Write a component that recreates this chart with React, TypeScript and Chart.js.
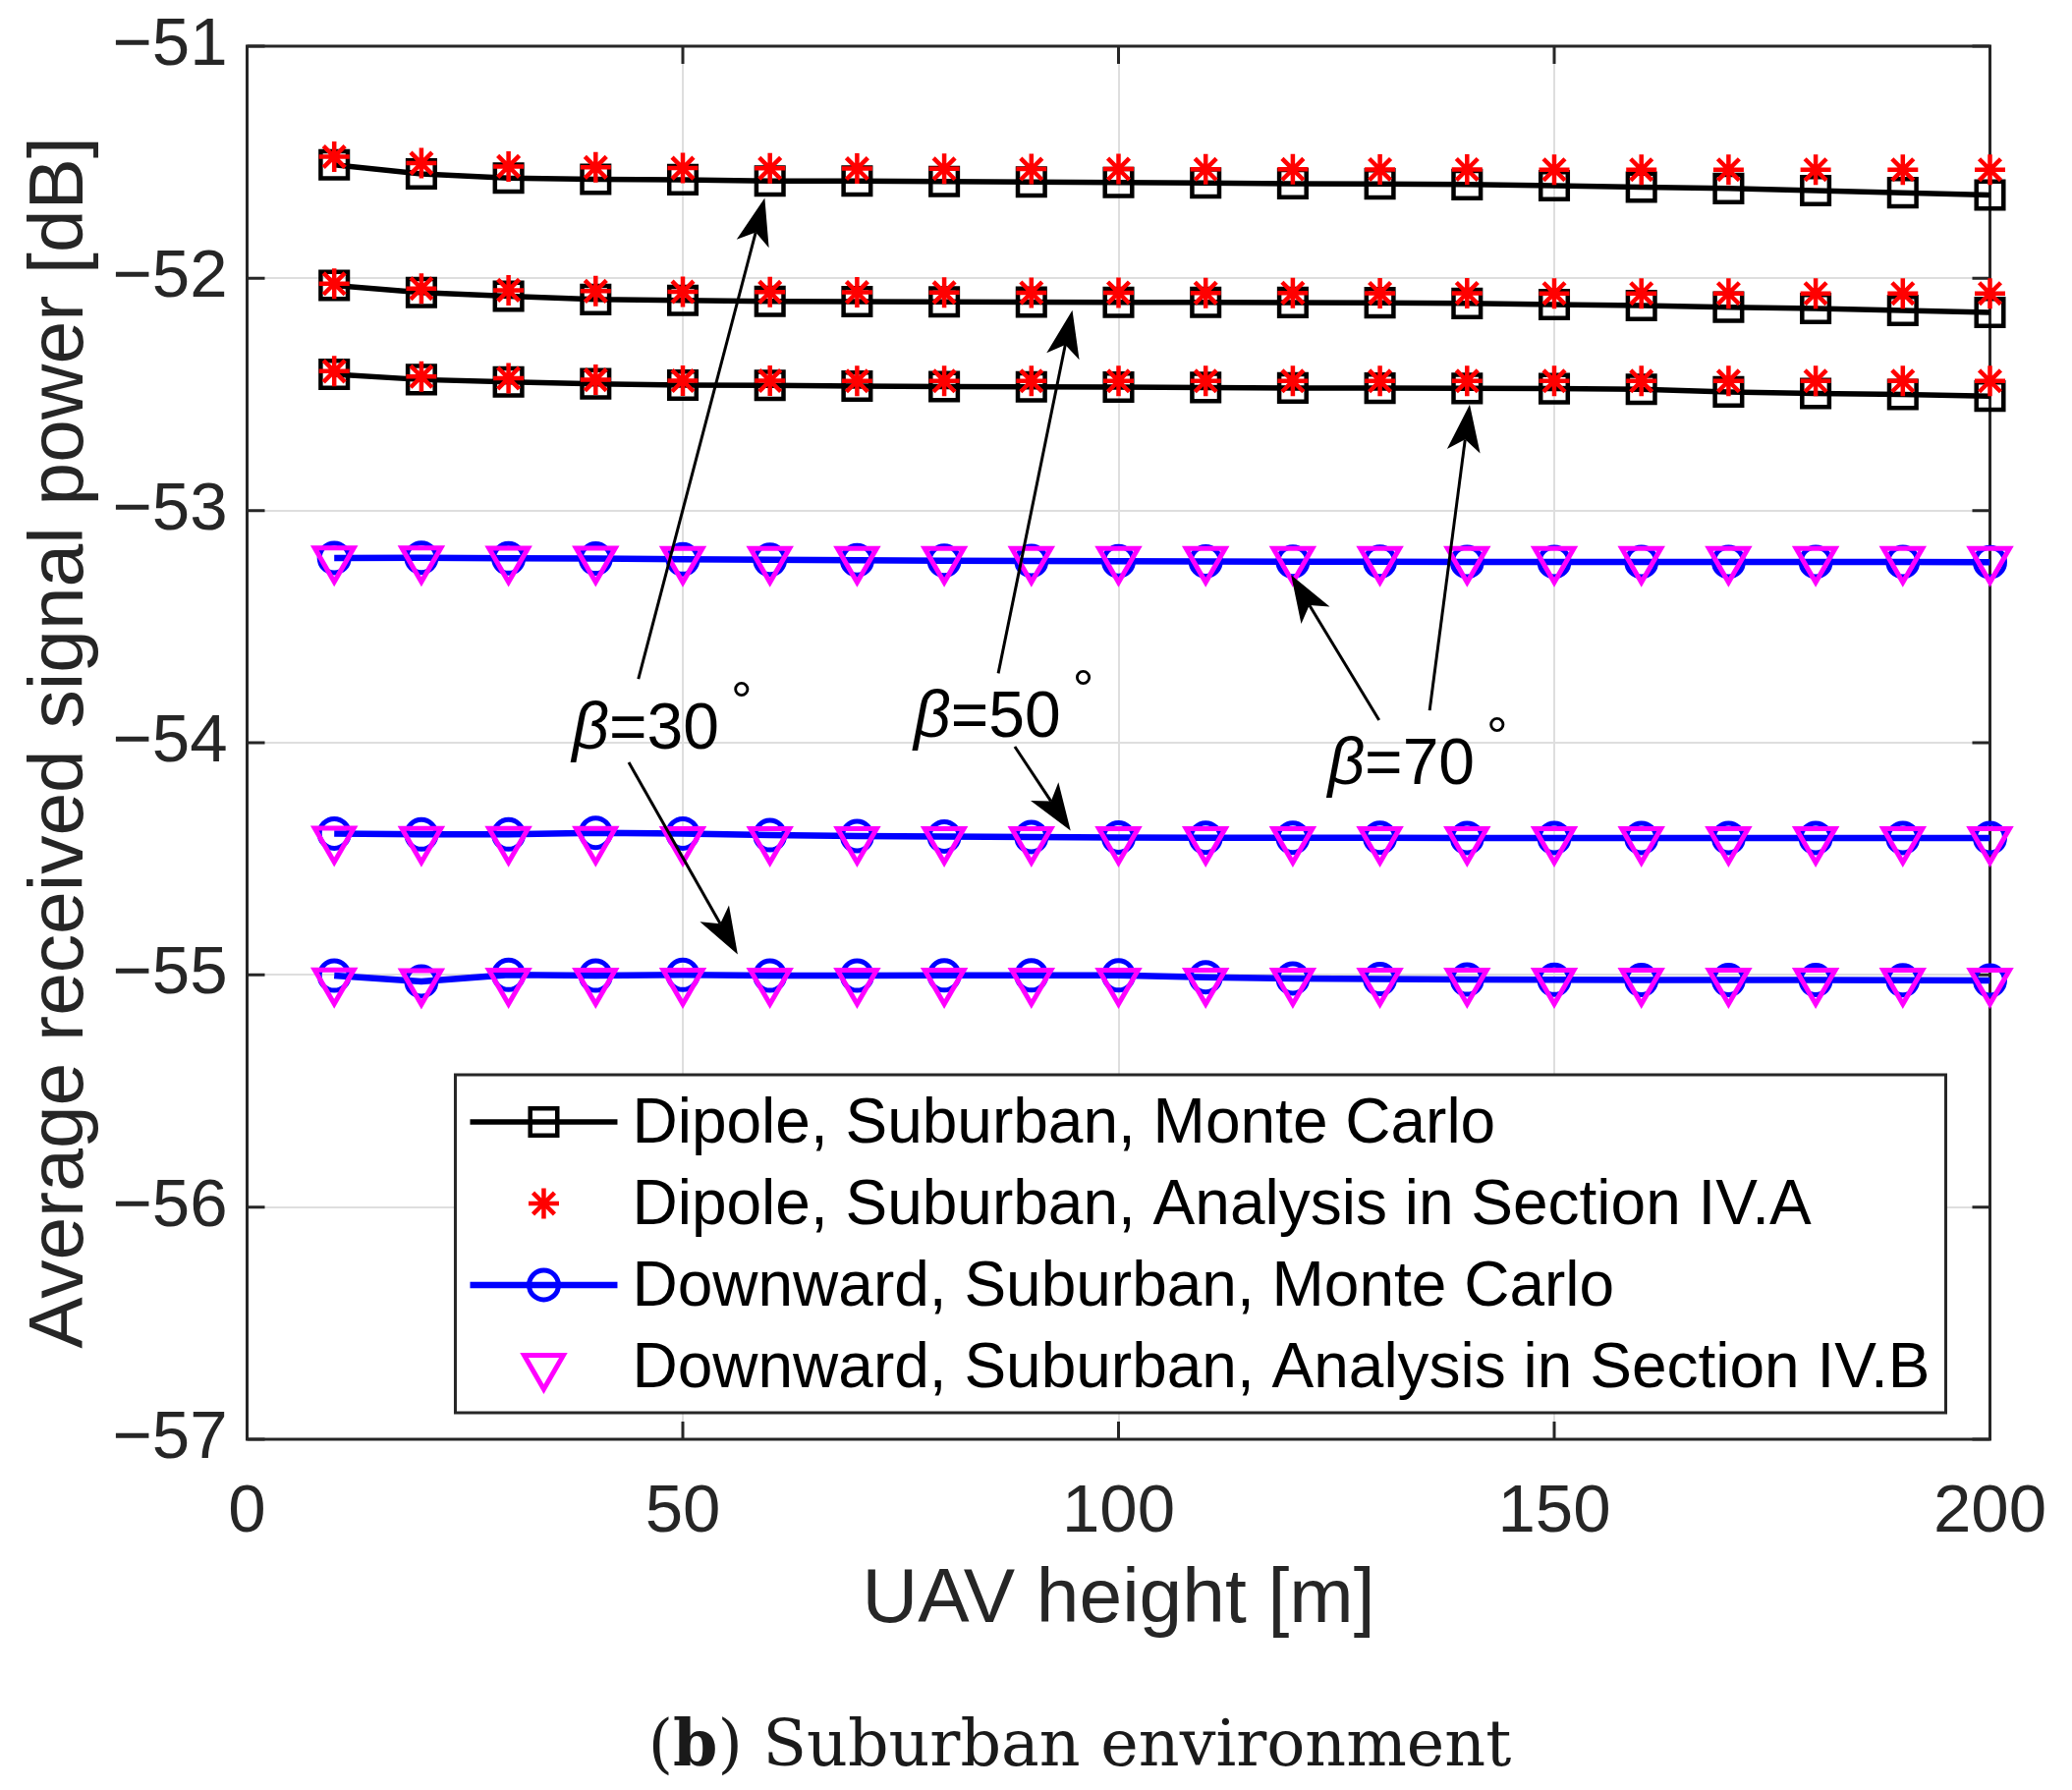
import React, { useEffect, useRef } from 'react';
import { Chart, registerables } from 'chart.js';
import { drawPoint } from 'chart.js/helpers';

Chart.register(...registerables);

// ---------------- data ----------------
const heights = [10, 20, 30, 40, 50, 60, 70, 80, 90, 100, 110, 120, 130, 140, 150, 160, 170, 180, 190, 200];

// Dipole, Monte Carlo (beta = 30, 50, 70 deg)
const dipoleMC30 = [-51.511, -51.55, -51.568, -51.573, -51.575, -51.581, -51.581, -51.583, -51.585, -51.587, -51.589, -51.592, -51.593, -51.596, -51.601, -51.607, -51.613, -51.622, -51.631, -51.641];
const dipoleMC50 = [-52.03, -52.061, -52.077, -52.091, -52.095, -52.099, -52.1, -52.101, -52.102, -52.103, -52.103, -52.104, -52.105, -52.108, -52.113, -52.117, -52.124, -52.13, -52.138, -52.147];
const dipoleMC70 = [-52.413, -52.436, -52.446, -52.454, -52.46, -52.461, -52.464, -52.466, -52.467, -52.468, -52.47, -52.472, -52.473, -52.474, -52.475, -52.478, -52.489, -52.496, -52.5, -52.507];
// Dipole, analysis (Section IV.A)
const dipoleAn30 = [-51.476, -51.504, -51.518, -51.522, -51.525, -51.526, -51.527, -51.528, -51.529, -51.529, -51.53, -51.53, -51.531, -51.531, -51.532, -51.532, -51.532, -51.532, -51.532, -51.532];
const dipoleAn50 = [-52.023, -52.044, -52.051, -52.055, -52.058, -52.059, -52.06, -52.061, -52.062, -52.062, -52.063, -52.063, -52.064, -52.064, -52.065, -52.065, -52.065, -52.065, -52.065, -52.065];
const dipoleAn70 = [-52.4, -52.423, -52.43, -52.437, -52.441, -52.441, -52.442, -52.442, -52.442, -52.442, -52.442, -52.442, -52.442, -52.442, -52.442, -52.442, -52.442, -52.442, -52.442, -52.442];
// Downward, Monte Carlo
const downMC70 = [-53.204, -53.203, -53.206, -53.207, -53.21, -53.212, -53.214, -53.216, -53.217, -53.218, -53.219, -53.22, -53.22, -53.221, -53.221, -53.221, -53.221, -53.221, -53.221, -53.222];
const downMC50 = [-54.391, -54.395, -54.395, -54.388, -54.391, -54.398, -54.402, -54.404, -54.406, -54.408, -54.409, -54.409, -54.409, -54.41, -54.41, -54.41, -54.41, -54.41, -54.41, -54.41];
const downMC30 = [-55.003, -55.028, -55.0, -55.003, -55.0, -55.003, -55.003, -55.002, -55.002, -55.002, -55.01, -55.015, -55.018, -55.02, -55.021, -55.022, -55.022, -55.022, -55.023, -55.024];
// Downward, analysis (Section IV.B)
const downAn70 = [-53.21, -53.21, -53.211, -53.211, -53.212, -53.212, -53.212, -53.212, -53.212, -53.212, -53.212, -53.212, -53.212, -53.212, -53.212, -53.212, -53.212, -53.212, -53.212, -53.212];
const downAn50 = [-54.417, -54.418, -54.418, -54.418, -54.419, -54.419, -54.419, -54.419, -54.419, -54.419, -54.419, -54.419, -54.419, -54.419, -54.419, -54.419, -54.419, -54.419, -54.419, -54.419];
const downAn30 = [-55.027, -55.03, -55.028, -55.028, -55.028, -55.028, -55.028, -55.028, -55.028, -55.028, -55.028, -55.028, -55.028, -55.028, -55.028, -55.028, -55.028, -55.028, -55.028, -55.028];

const xTicks = [0, 50, 100, 150, 200];
const yTicks = [-57, -56, -55, -54, -53, -52, -51];
const xTitle = 'UAV height [m]';
const yTitle = 'Average received signal power [dB]';
const legendLabels = [
  'Dipole, Suburban, Monte Carlo',
  'Dipole, Suburban, Analysis in Section IV.A',
  'Downward, Suburban, Monte Carlo',
  'Downward, Suburban, Analysis in Section IV.B',
];

// beta annotations (data coordinates, left / baseline of the text)
const betaValues = ['30', '50', '70'];
const betaX = [37.3, 76.5, 124.0];
const betaY = [-54.025, -53.975, -54.178];
// arrows (tail -> head), data coordinates
const arrowTailX = [44.9, 43.8, 86.2, 88.1, 129.9, 135.7];
const arrowTailY = [-53.725, -54.085, -53.701, -54.017, -53.903, -53.861];
const arrowHeadX = [59.4, 56.3, 94.7, 94.5, 119.8, 140.3];
const arrowHeadY = [-51.654, -54.912, -52.137, -54.379, -53.277, -52.543];

const captionParts = ['(', 'b', ') Suburban environment'];

// ---------------- styles ----------------
const FONT = '"Liberation Sans", Arial, Helvetica, sans-serif';
const SERIF = '"DejaVu Serif", "Liberation Serif", serif';
const AXIS_COLOR = '#262626';
const GRID_COLOR = '#dedede';

type Style = { color: string; lineWidth: number; pointStyle: any; radius: number; pointBorderWidth: number; rotation: number; showLine: boolean };
const blackStyle: Style = { color: '#000000', lineWidth: 5.5, pointStyle: 'rect', radius: 19.5, pointBorderWidth: 4.5, rotation: 0, showLine: true };
const redStyle: Style = { color: '#ff0000', lineWidth: 0, pointStyle: 'star', radius: 15.5, pointBorderWidth: 4.5, rotation: 0, showLine: false };
const blueStyle: Style = { color: '#0000ff', lineWidth: 6.5, pointStyle: 'circle', radius: 15, pointBorderWidth: 5, rotation: 0, showLine: true };
const magentaStyle: Style = { color: '#ff00ff', lineWidth: 0, pointStyle: 'triangle', radius: 23, pointBorderWidth: 5, rotation: 180, showLine: false };
const legendStyles = [blackStyle, redStyle, blueStyle, magentaStyle];

function makeDataset(label: string, vals: number[], st: Style) {
  return {
    label,
    data: heights.map((h, i) => ({ x: h, y: vals[i] })),
    showLine: st.showLine,
    borderColor: st.color,
    borderWidth: st.lineWidth || 1,
    backgroundColor: 'rgba(0,0,0,0)',
    fill: false,
    tension: 0,
    pointStyle: st.pointStyle,
    pointRadius: st.radius,
    pointBorderWidth: st.pointBorderWidth,
    pointBorderColor: st.color,
    pointBackgroundColor: 'rgba(0,0,0,0)',
    pointRotation: st.rotation,
    clip: false,
  };
}

const fmt = (v: number) => (v < 0 ? '\u2212' + Math.abs(v) : String(v));

function zeroPadding(s: any) {
  s.paddingTop = 0;
  s.paddingBottom = 0;
  s.paddingLeft = 0;
  s.paddingRight = 0;
}

function drawArrow(ctx: CanvasRenderingContext2D, x0: number, y0: number, x1: number, y1: number) {
  const ang = Math.atan2(y1 - y0, x1 - x0);
  const c = Math.cos(ang), s = Math.sin(ang);
  const L = 48, W = 17, N = 36;
  const bx = x1 - N * c, by = y1 - N * s;
  ctx.beginPath();
  ctx.moveTo(x0, y0);
  ctx.lineTo(bx, by);
  ctx.lineWidth = 3;
  ctx.stroke();
  const cx = x1 - L * c, cy = y1 - L * s;
  ctx.beginPath();
  ctx.moveTo(x1, y1);
  ctx.lineTo(cx - W * s, cy + W * c);
  ctx.lineTo(bx, by);
  ctx.lineTo(cx + W * s, cy - W * c);
  ctx.closePath();
  ctx.fill();
}

const overlayPlugin = {
  id: 'overlay',
  beforeDraw(chart: any) {
    const { ctx, width, height } = chart;
    ctx.save();
    ctx.fillStyle = '#ffffff';
    ctx.fillRect(0, 0, width, height);
    ctx.restore();
  },
  beforeDatasetsDraw(chart: any) {
    const { ctx, chartArea: a, scales } = chart;
    const xs = scales.x, ys = scales.y;
    const TL = 18;
    ctx.save();
    ctx.strokeStyle = AXIS_COLOR;
    ctx.lineWidth = 3;
    ctx.strokeRect(a.left, a.top, a.right - a.left, a.bottom - a.top);
    ctx.beginPath();
    for (const t of xTicks) {
      const px = xs.getPixelForValue(t);
      ctx.moveTo(px, a.bottom); ctx.lineTo(px, a.bottom - TL);
      ctx.moveTo(px, a.top); ctx.lineTo(px, a.top + TL);
    }
    for (const t of yTicks) {
      const py = ys.getPixelForValue(t);
      ctx.moveTo(a.left, py); ctx.lineTo(a.left + TL, py);
      ctx.moveTo(a.right, py); ctx.lineTo(a.right - TL, py);
    }
    ctx.stroke();
    ctx.restore();
  },
  afterDatasetsDraw(chart: any) {
    const { ctx, scales } = chart;
    const xs = scales.x, ys = scales.y;
    ctx.save();
    ctx.strokeStyle = '#000';
    ctx.fillStyle = '#000';
    for (let i = 0; i < arrowTailX.length; i++) {
      drawArrow(ctx,
        xs.getPixelForValue(arrowTailX[i]), ys.getPixelForValue(arrowTailY[i]),
        xs.getPixelForValue(arrowHeadX[i]), ys.getPixelForValue(arrowHeadY[i]));
    }
    ctx.textAlign = 'left';
    ctx.textBaseline = 'alphabetic';
    for (let i = 0; i < betaValues.length; i++) {
      const x = xs.getPixelForValue(betaX[i]);
      const y = ys.getPixelForValue(betaY[i]);
      ctx.font = `italic 66px ${FONT}`;
      ctx.fillText('\u03b2', x, y);
      let w = ctx.measureText('\u03b2').width;
      ctx.font = `66px ${FONT}`;
      const t = '=' + betaValues[i];
      ctx.fillText(t, x + w, y);
      w += ctx.measureText(t).width;
      ctx.font = `54px ${FONT}`;
      ctx.fillText('\u00b0', x + w + 12, y - 30);
    }
    ctx.restore();
  },
  afterDraw(chart: any) {
    const { ctx, chartArea: a } = chart;
    ctx.save();
    // legend
    ctx.font = `64px ${FONT}`;
    let maxW = 0;
    for (const l of legendLabels) maxW = Math.max(maxW, ctx.measureText(l).width);
    const boxW = 180 + maxW + 16;
    const boxH = 344;
    const right = a.right - 45;
    const left = right - boxW;
    const top = a.bottom - 371;
    ctx.fillStyle = '#ffffff';
    ctx.fillRect(left, top, boxW, boxH);
    ctx.strokeStyle = AXIS_COLOR;
    ctx.lineWidth = 3;
    ctx.strokeRect(left, top, boxW, boxH);
    for (let i = 0; i < legendLabels.length; i++) {
      const st = legendStyles[i];
      const cy = top + 48 + i * 83;
      if (st.showLine) {
        ctx.beginPath();
        ctx.moveTo(left + 15, cy);
        ctx.lineTo(left + 165, cy);
        ctx.strokeStyle = st.color;
        ctx.lineWidth = st.lineWidth;
        ctx.stroke();
      }
      ctx.strokeStyle = st.color;
      ctx.fillStyle = 'rgba(0,0,0,0)';
      ctx.lineWidth = st.pointBorderWidth;
      drawPoint(ctx, { pointStyle: st.pointStyle, radius: st.radius, rotation: st.rotation, borderWidth: st.pointBorderWidth } as any, left + 90, cy);
      ctx.fillStyle = '#000';
      ctx.font = `64px ${FONT}`;
      ctx.textAlign = 'left';
      ctx.textBaseline = 'middle';
      ctx.fillText(legendLabels[i], left + 180, cy + 3);
    }
    // caption
    ctx.fillStyle = '#1a1a1a';
    ctx.textBaseline = 'alphabetic';
    ctx.textAlign = 'left';
    const fonts = [`65px ${SERIF}`, `bold 65px ${SERIF}`, `65px ${SERIF}`];
    let total = 0;
    const widths: number[] = [];
    captionParts.forEach((p, i) => { ctx.font = fonts[i]; const w = ctx.measureText(p).width; widths.push(w); total += w; });
    let cx = 1099 - total / 2;
    captionParts.forEach((p, i) => { ctx.font = fonts[i]; ctx.fillText(p, cx, 1797); cx += widths[i]; });
    ctx.restore();
  },
};

export default function App() {
  const ref = useRef<HTMLCanvasElement>(null);
  useEffect(() => {
    document.body.style.margin = '0';
    const canvas = ref.current!;
    const datasets = [
      makeDataset(legendLabels[3] + ' 70', downAn70, magentaStyle),
      makeDataset(legendLabels[3] + ' 50', downAn50, magentaStyle),
      makeDataset(legendLabels[3] + ' 30', downAn30, magentaStyle),
      makeDataset(legendLabels[2] + ' 70', downMC70, blueStyle),
      makeDataset(legendLabels[2] + ' 50', downMC50, blueStyle),
      makeDataset(legendLabels[2] + ' 30', downMC30, blueStyle),
      makeDataset(legendLabels[1] + ' 30', dipoleAn30, redStyle),
      makeDataset(legendLabels[1] + ' 50', dipoleAn50, redStyle),
      makeDataset(legendLabels[1] + ' 70', dipoleAn70, redStyle),
      makeDataset(legendLabels[0] + ' 30', dipoleMC30, blackStyle),
      makeDataset(legendLabels[0] + ' 50', dipoleMC50, blackStyle),
      makeDataset(legendLabels[0] + ' 70', dipoleMC70, blackStyle),
    ];
    const chart = new Chart(canvas, {
      type: 'line',
      data: { datasets: datasets as any },
      options: {
        responsive: false,
        animation: false,
        devicePixelRatio: 1,
        events: [],
        layout: { padding: { left: 15, right: 83.5, top: 47, bottom: 146 } },
        plugins: { legend: { display: false }, tooltip: { enabled: false } },
        scales: {
          x: {
            type: 'linear',
            min: 0,
            max: 200,
            afterBuildTicks: (s: any) => { s.ticks = xTicks.map((v) => ({ value: v })); },
            afterFit: (s: any) => { s.height = 211; zeroPadding(s); },
            grid: { color: GRID_COLOR, lineWidth: 2, drawTicks: false },
            border: { display: false },
            ticks: { color: AXIS_COLOR, font: { family: FONT, size: 69 }, padding: 34, maxRotation: 0, autoSkip: false, callback: (v: any) => fmt(Number(v)) },
            title: { display: true, text: xTitle, color: AXIS_COLOR, font: { family: FONT, size: 78.5 }, padding: 0 },
          },
          y: {
            type: 'linear',
            min: -57,
            max: -51,
            afterBuildTicks: (s: any) => { s.ticks = yTicks.map((v) => ({ value: v })); },
            afterFit: (s: any) => { s.width = 236.5; zeroPadding(s); },
            grid: { color: GRID_COLOR, lineWidth: 2, drawTicks: false },
            border: { display: false },
            ticks: { color: AXIS_COLOR, font: { family: FONT, size: 69 }, padding: 20, autoSkip: false, callback: (v: any) => fmt(Number(v)) },
            title: { display: true, text: yTitle, color: AXIS_COLOR, font: { family: FONT, size: 78.5 }, padding: 0 },
          },
        },
      },
      plugins: [overlayPlugin],
    });
    return () => chart.destroy();
  }, []);
  return (
    <div style={{ position: 'relative', width: 2109, height: 1822 }}>
      <canvas ref={ref} width={2109} height={1822} style={{ display: 'block', width: 2109, height: 1822 }} />
    </div>
  );
}
